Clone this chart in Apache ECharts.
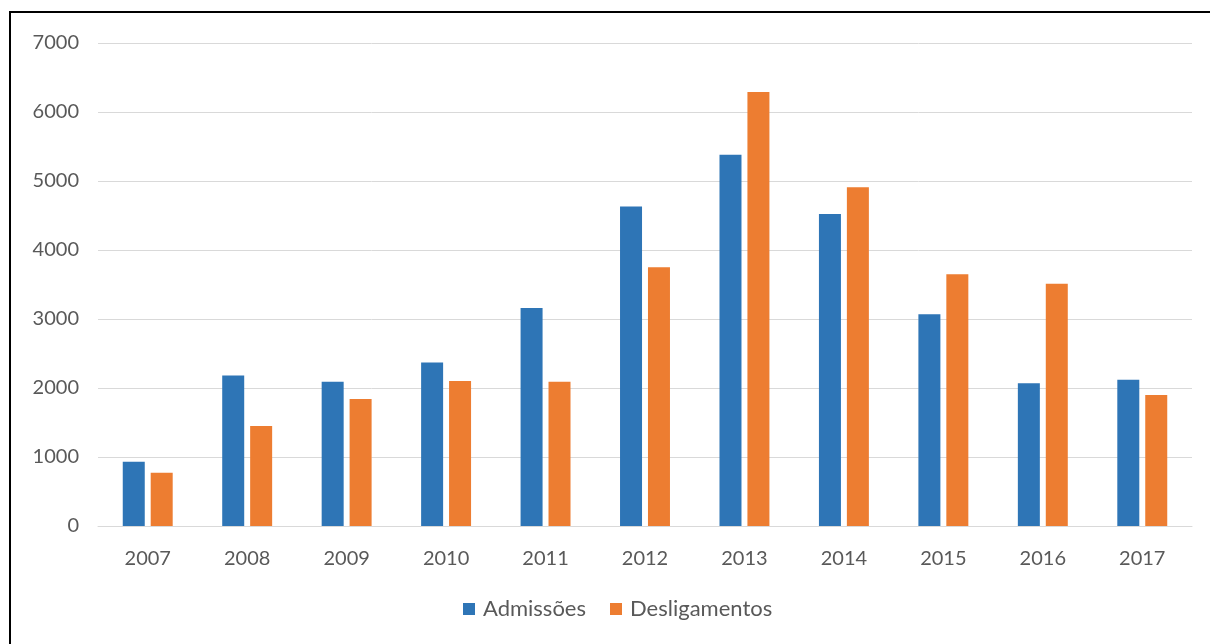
<!DOCTYPE html>
<html><head><meta charset="utf-8">
<script src="https://cdn.jsdelivr.net/npm/echarts@6/dist/echarts.min.js"></script>
<style>
html,body{margin:0;padding:0;background:#fff;}
#frame{position:absolute;left:9px;top:11px;width:1230px;height:680px;border:2px solid #000;box-sizing:border-box;}
#c{position:absolute;left:0;top:0;width:1210px;height:644px;}
</style></head>
<body>
<div id="frame"></div>
<div id="c"></div>
<script>
const categories = ['2007','2008','2009','2010','2011','2012','2013','2014','2015','2016','2017'];
const admissoes = [930, 2180, 2090, 2370, 3160, 4630, 5380, 4520, 3070, 2070, 2120];
const desligamentos = [770, 1450, 1840, 2100, 2090, 3750, 6290, 4910, 3650, 3510, 1900];
const seriesNames = ['Admissões', 'Desligamentos'];

const chart = echarts.init(document.getElementById('c'), null, {renderer:'canvas'});
const font = 'Lato, "Open Sans", sans-serif';
chart.setOption({
  animation:false,
  grid:{left:98, right:18, top:43, bottom:118},
  legend:{
    data:seriesNames, bottom:19, left:458,
    itemWidth:12, itemHeight:12, itemGap:24, icon:'rect',
    textStyle:{color:'#595959', fontSize:22, fontFamily:font, padding:[0,0,0,3]}
  },
  xAxis:{
    type:'category', data:categories,
    axisLine:{lineStyle:{color:'#D9D9D9'}}, axisTick:{show:false},
    axisLabel:{color:'#595959', fontSize:20, fontFamily:font, margin:23}
  },
  yAxis:{
    type:'value', min:0, max:7000, interval:1000,
    axisLine:{show:false}, axisTick:{show:false},
    splitLine:{lineStyle:{color:'#D9D9D9'}},
    axisLabel:{color:'#595959', fontSize:20, fontFamily:font, margin:19, formatter:v=>String(v)}
  },
  series:[
    {name:seriesNames[0], type:'bar', data:admissoes, barWidth:22, barGap:'27%', itemStyle:{color:'#2E75B6'}},
    {name:seriesNames[1], type:'bar', data:desligamentos, barWidth:22, itemStyle:{color:'#ED7D31'}}
  ]
});
</script>
</body></html>
